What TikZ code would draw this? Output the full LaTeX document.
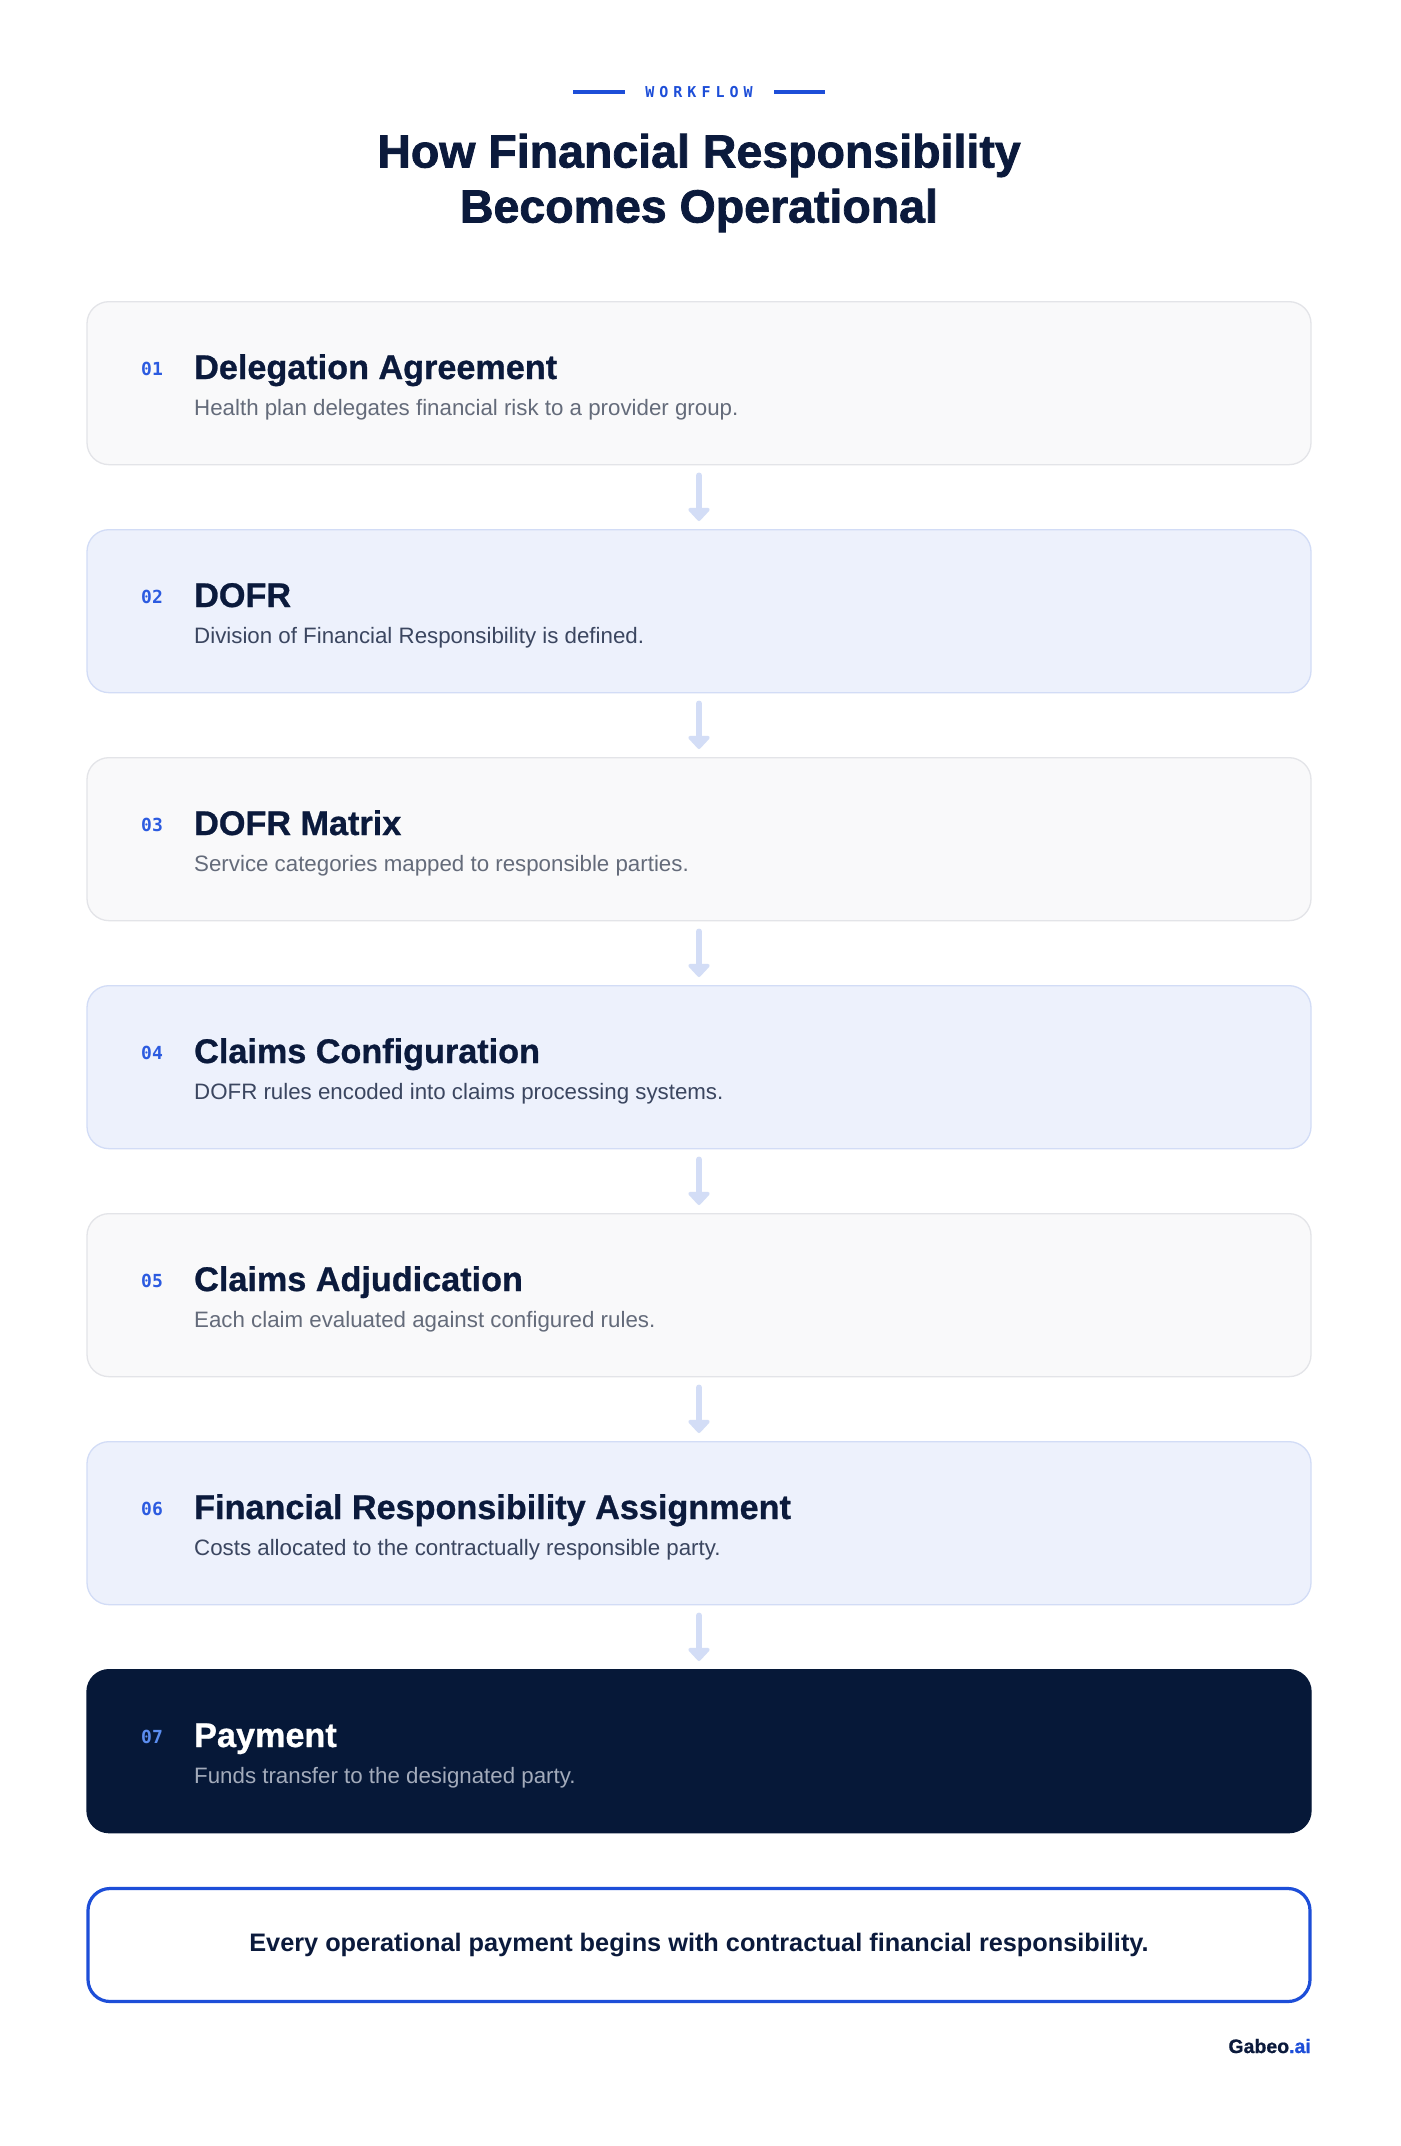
\documentclass[tikz,border=0pt]{standalone}
\usepackage{fontspec}
\setmainfont{Liberation Sans}
\newfontfamily\heavyf[BoldFeatures={FakeBold=1.6}]{Liberation Sans}
\newfontfamily\semiheavyf[BoldFeatures={FakeBold=0.8}]{Liberation Sans}
\newfontfamily\monof{DejaVu Sans Mono}
\usetikzlibrary{arrows.meta}
\definecolor{navy}{HTML}{0B1A3C}
\definecolor{darkbox}{HTML}{061838}
\definecolor{accent}{HTML}{1D4ED8}
\definecolor{numblue}{HTML}{2C5BE0}
\definecolor{lightnum}{HTML}{5B8DEF}
\definecolor{subgray}{HTML}{646B7A}
\definecolor{subeven}{HTML}{3B4660}
\definecolor{paysub}{HTML}{A3ABBB}
\definecolor{oddfill}{HTML}{F9F9FA}
\definecolor{oddline}{HTML}{E3E4E8}
\definecolor{evenfill}{HTML}{EDF1FC}
\definecolor{evenline}{HTML}{D2DCF6}
\definecolor{arrowc}{HTML}{D3DDF6}
\tikzset{
  card/.style={rounded corners=22pt, minimum width=1224pt, minimum height=163pt, anchor=north, inner sep=0pt, line width=1.3pt},
  oddcard/.style={card, fill=oddfill, draw=oddline},
  evencard/.style={card, fill=evenfill, draw=evenline},
  paycard/.style={card, fill=darkbox, draw=darkbox},
  numtxt/.style={anchor=west, inner sep=0pt, font=\monof\bfseries\fontsize{18}{21}\selectfont, text=numblue},
  titletxt/.style={anchor=base west, inner sep=0pt, font=\semiheavyf\bfseries\fontsize{34.2}{38}\selectfont, text=navy},
  subtxt/.style={anchor=base west, inner sep=0pt, font=\fontsize{22.3}{25}\selectfont, text=subgray},
  numodd/.style={}, titleodd/.style={}, subodd/.style={},
  numeven/.style={}, titleeven/.style={}, subeven/.style={text=subeven},
  numpay/.style={text=lightnum}, titlepay/.style={text=white}, subpay/.style={text=paysub},
  conn/.style={draw=arrowc, line width=5.5pt, line cap=round, -{Triangle[width=25pt,length=14pt,round]}},
}
\newcommand{\mkcard}[6]{%
  \node[#4card] (b#1) at (699,#2) {};
  \node[numtxt,num#4] (n#1) at (141,#2+68) {0#1};
  \node[titletxt,title#4] (t#1) at (194,#2+78) {#5};
  \node[subtxt,sub#4] (s#1) at (194,#2+114) {#6};
}
\begin{document}
\begin{tikzpicture}[x=1pt,y=-1pt]
\useasboundingbox[fill=white] (0,0) rectangle (1400,2146);
% header
\node[inner sep=0pt, font=\monof\bfseries\fontsize{15}{18}\selectfont, text=accent] (wf) at (699,92) {W\kern5ptO\kern5ptR\kern5ptK\kern5ptF\kern5ptL\kern5ptO\kern5ptW};
\coordinate (wl1) at (573,92); \coordinate (wl2) at (625,92);
\coordinate (wr1) at (774,92); \coordinate (wr2) at (825,92);
\draw[accent, line width=4pt] (wl1) -- (wl2);
\draw[accent, line width=4pt] (wr1) -- (wr2);
\node[inner sep=0pt, align=center, font=\heavyf\bfseries\fontsize{46.5}{55}\selectfont, text=navy] (title) at (699,183) {How Financial Responsibility\\Becomes Operational};
% cards
\mkcard{1}{301}{}{odd}{Delegation Agreement}{Health plan delegates financial risk to a provider group.}
\mkcard{2}{529}{}{even}{DOFR}{Division of Financial Responsibility is defined.}
\mkcard{3}{757}{}{odd}{DOFR Matrix}{Service categories mapped to responsible parties.}
\mkcard{4}{985}{}{even}{Claims Configuration}{DOFR rules encoded into claims processing systems.}
\mkcard{5}{1213}{}{odd}{Claims Adjudication}{Each claim evaluated against configured rules.}
\mkcard{6}{1441}{}{even}{Financial Responsibility Assignment}{Costs allocated to the contractually responsible party.}
\mkcard{7}{1669}{}{pay}{Payment}{Funds transfer to the designated party.}
\foreach \i in {1,...,6} {
  \pgfmathtruncatemacro{\j}{\i+1}
  \draw[conn] ([yshift=-10pt]b\i.south) -- ([yshift=8pt]b\j.north);
}
% summary
\node[rounded corners=22pt, draw=accent, line width=3.2pt, fill=white, minimum width=1222pt, minimum height=113pt, inner sep=0pt, font=\bfseries\fontsize{25.3}{30}\selectfont, text=navy] (sum) at (699,1945) {Every operational payment begins with contractual financial responsibility.};
\node[anchor=base east, inner sep=0pt, font=\semiheavyf\bfseries\fontsize{19.5}{22}\selectfont, text=navy] (logo) at (1311,2053) {Gabeo\textcolor{accent}{.ai}};
\end{tikzpicture}
\end{document}
